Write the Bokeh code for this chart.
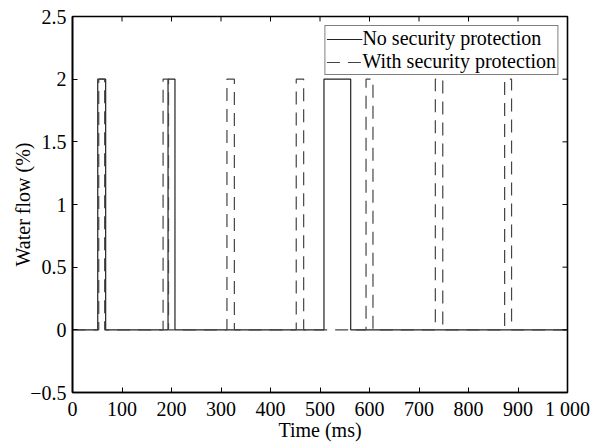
from bokeh.plotting import figure
from bokeh.models import Range1d, FixedTicker, Legend, LegendItem
from bokeh.embed import file_html
from bokeh.resources import INLINE

# ---- data ----
time_start = 0
time_end = 1000
pulse_level = 2.0
base_level = 0.0

no_protection_on = [51, 193, 508]
no_protection_off = [67, 207, 562]

with_protection_on = [53, 183, 312, 452, 593, 733, 873]
with_protection_off = [65, 194, 327, 467, 607, 748, 887]

x_ticks = [0, 100, 200, 300, 400, 500, 600, 700, 800, 900, 1000]
x_tick_labels = {1000: "1 000"}
y_ticks = [-0.5, 0, 0.5, 1, 1.5, 2, 2.5]
y_tick_labels = {-0.5: "\u22120.5"}

X_MIN, X_MAX = 0, 1000
Y_MIN, Y_MAX = -0.5, 2.5

# ---- layout (pixels) ----
W, H = 592, 443
B_LEFT, B_RIGHT, B_TOP, B_BOTTOM = 72, 25, 16, 47
TICK = 5


def step_series(ons, offs):
    xs = [time_start]
    ys = [base_level]
    for a, b in zip(ons, offs):
        xs += [a, a, b, b]
        ys += [base_level, pulse_level, pulse_level, base_level]
    xs.append(time_end)
    ys.append(base_level)
    return xs, ys


x_np, y_np = step_series(no_protection_on, no_protection_off)
x_wp, y_wp = step_series(with_protection_on, with_protection_off)

FONT = "Liberation Serif"
FS = "20px"

p = figure(width=W, height=H, output_backend="svg", toolbar_location=None,
           x_range=Range1d(X_MIN, X_MAX), y_range=Range1d(Y_MIN, Y_MAX),
           min_border_left=B_LEFT, min_border_right=B_RIGHT, min_border_top=B_TOP,
           min_border_bottom=B_BOTTOM)
p.background_fill_color = "white"
p.border_fill_color = "white"
p.outline_line_color = "black"
p.outline_line_width = 1.6
p.xgrid.visible = False
p.ygrid.visible = False

r_np = p.line(x_np, y_np, line_color="#222222", line_width=1.2)
r_wp = p.line(x_wp, y_wp, line_color="#444444", line_width=1.2, line_dash="13 8")

for ax in (p.xaxis[0], p.yaxis[0]):
    ax.axis_line_width = 1.6
    ax.major_tick_in = TICK
    ax.major_tick_out = 0
    ax.major_tick_line_width = 1
    ax.minor_tick_line_color = None
    ax.major_label_text_font = FONT
    ax.major_label_text_font_size = FS
    ax.major_label_text_color = "black"
    ax.axis_label_text_font = FONT
    ax.axis_label_text_font_size = FS
    ax.axis_label_text_font_style = "normal"
    ax.axis_label_text_color = "black"

p.xaxis[0].ticker = FixedTicker(ticks=x_ticks)
p.xaxis[0].major_label_overrides = x_tick_labels
p.xaxis[0].axis_label = "Time (ms)"
p.xaxis[0].major_label_standoff = 5
p.xaxis[0].axis_label_standoff = -4
p.yaxis[0].ticker = FixedTicker(ticks=y_ticks)
p.yaxis[0].major_label_overrides = y_tick_labels
p.yaxis[0].axis_label = "Water flow (%)"
p.yaxis[0].major_label_standoff = 6
p.yaxis[0].axis_label_standoff = -7

# inward ticks on the top and right edges of the box
frame_w = W - B_LEFT - B_RIGHT
frame_h = H - B_TOP - B_BOTTOM
dy = TICK * (Y_MAX - Y_MIN) / frame_h
dx = TICK * (X_MAX - X_MIN) / frame_w
p.segment(x0=x_ticks, y0=[Y_MAX] * len(x_ticks), x1=x_ticks, y1=[Y_MAX - dy] * len(x_ticks),
          line_color="black", line_width=1)
p.segment(x0=[X_MAX] * len(y_ticks), y0=y_ticks, x1=[X_MAX - dx] * len(y_ticks), y1=y_ticks,
          line_color="black", line_width=1)

legend = Legend(items=[LegendItem(label="No security protection", renderers=[r_np]),
                       LegendItem(label="With security protection", renderers=[r_wp])],
                location="top_right")
legend.label_text_font = FONT
legend.label_text_font_size = FS
legend.label_text_color = "black"
legend.label_standoff = 0
legend.glyph_width = 36
legend.glyph_height = 20
legend.label_height = 20
legend.spacing = 0
legend.padding = 1
legend.margin = 9
legend.border_line_color = "black"
legend.border_line_width = 1
legend.background_fill_alpha = 1
p.add_layout(legend, "center")

open("out.html", "w").write(file_html(p, INLINE))
